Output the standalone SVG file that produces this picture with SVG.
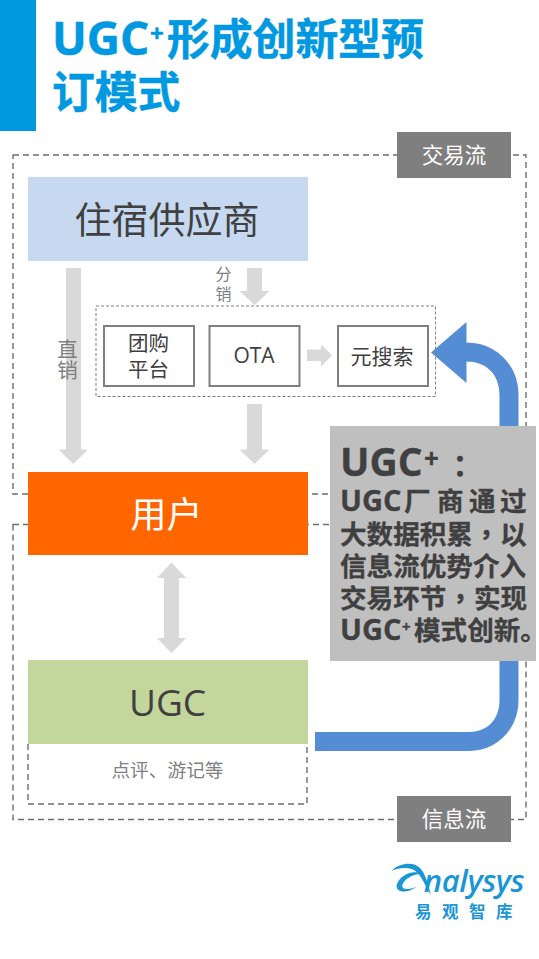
<svg xmlns="http://www.w3.org/2000/svg" width="539" height="959" viewBox="0 0 539 959">
<style>
text{font-family:"Open Sans","Noto Sans CJK SC","Noto Sans",sans-serif;text-anchor:middle}
.d{fill:none;stroke:#6e6e6e;stroke-width:1.4;stroke-dasharray:6 4}
.g{fill:#d9d9d9}
.b{fill:#fff;stroke:#7f7f7f;stroke-width:2}
.t{fill:#0098e0;font-weight:700;font-size:42.800px;text-anchor:start;stroke:#0098e0;stroke-width:.5}
.k{fill:#404040}
.h{fill:#404040;font-weight:700;text-anchor:start;stroke:#404040;stroke-width:.3}
.c{font-family:"Open Sans","Noto Sans CJK TC",sans-serif}
.m{fill:#7f7f7f}
.w{fill:#fff}
.l{fill:#1a96d4}
</style>
<rect width="539" height="959" fill="#fff"/>
<g id="title">
<rect x="0" y="0" width="36" height="131" fill="#0098e0"/>
<text class="t" x="52" y="55"><tspan font-size="46">UGC</tspan><tspan x="150" y="42" font-size="24">+</tspan><tspan x="167" y="55">形成创新型预</tspan></text>
<text class="t" x="52" y="108">订模式</text>
</g>
<g id="frames">
<rect class="d" x="13" y="155" width="513" height="339"/>
<rect class="d" x="13" y="524.500" width="513" height="295"/>
</g>
<g id="connectors">
<path class="g" d="M66 268H81V449.500H88L73.200 464 58.500 449.500H66Z"/>
<path class="g" d="M247 268H262V291H269.500L254.500 305 239.500 291H247Z"/>
<path class="g" d="M247 404H262V449.500H269.500L254.500 464 239.500 449.500H247Z"/>
<path class="g" d="M307 349.500H321V344.500L332 355.500 321 366.500V361H307Z"/>
<path class="g" d="M171.500 562.500L186 578H179V638H186L171.500 653 157 638H164V578H157Z"/>
<path fill="#548dd4" d="M431 352.500L466.500 322V342.500C496 342.500 518.500 365 518.500 395V700C518.500 730 496 751 469 751H315V732H469C487 732 499.500 720 499.500 700V395C499.500 375 487 361.500 466.500 361.500V383Z"/>
</g>
<g id="node-supplier">
<rect x="28" y="177" width="280" height="84" fill="#c6d9f1"/>
<text class="k" x="167" y="234" font-size="37">住宿供应商</text>
</g>
<text class="m" x="223.500" y="280" font-size="16">分</text>
<text class="m" x="223.500" y="300" font-size="16">销</text>
<text class="m" x="67.500" y="357" font-size="20.500">直</text>
<text class="m" x="67.500" y="378" font-size="20.500">销</text>
<g id="node-group">
<rect x="96" y="306" width="339.500" height="90.500" fill="none" stroke="#7f7f7f" stroke-width="1" stroke-dasharray="3 2"/>
</g>
<g id="node-tuangou">
<rect class="b" x="104" y="326" width="90" height="60"/>
<text class="k" x="148.500" y="351" font-size="20.500">团购</text>
<text class="k" x="148.500" y="377" font-size="20.500">平台</text>
</g>
<g id="node-ota">
<rect class="b" x="209.500" y="326" width="90" height="60"/>
<text class="k" x="254" y="363" font-size="21">OTA</text>
</g>
<g id="node-meta">
<rect class="b" x="338" y="326" width="90" height="60"/>
<text class="k" x="382" y="364" font-size="21">元搜索</text>
</g>
<g id="node-user">
<rect x="28" y="472" width="280" height="83" fill="#f60"/>
<text class="w" x="166.500" y="528" font-size="36">用户</text>
</g>
<g id="node-ugc">
<path class="d" d="M28 744V804H307V744"/>
<rect x="28" y="660" width="280" height="84" fill="#c3d69b"/>
<text class="k" x="167.500" y="716" font-size="37">UGC</text>
<text class="m" x="167.500" y="777" font-size="18.700">点评、游记等</text>
</g>
<g id="callout">
<rect x="330" y="426" width="206" height="235" fill="#bfbfbf"/>
<text class="h" x="340" y="476" font-size="39">UGC<tspan x="424" y="468" font-size="26">+</tspan><tspan class="c" x="445" y="477" font-size="30">：</tspan></text>
<text class="h" x="340" y="511" font-size="29">UGC<tspan x="404" font-size="26.600">厂</tspan><tspan x="437" font-size="26.600">商</tspan><tspan x="469" font-size="26.600">通</tspan><tspan x="500" font-size="26.600">过</tspan></text>
<text class="h" x="340" y="544" font-size="26.600">大数据积累<tspan class="c" x="473">，</tspan><tspan x="500">以</tspan></text>
<text class="h" x="340" y="576" font-size="26.600">信息流优势介入</text>
<text class="h" x="340" y="608" font-size="26.600">交易环节<tspan class="c" x="447">，</tspan><tspan x="474">实现</tspan></text>
<text class="h" x="340" y="640" font-size="29">UGC<tspan x="402" y="632" font-size="15">+</tspan><tspan x="414" y="640" font-size="26.600">模式创新。</tspan></text>
</g>
<g id="label-trade">
<rect x="397" y="132" width="114" height="46" fill="#7f7f7f"/>
<text class="w" x="454" y="163" font-size="21.500">交易流</text>
</g>
<g id="label-info">
<rect x="397" y="796" width="114" height="46" fill="#7f7f7f"/>
<text class="w" x="454" y="827" font-size="21.500">信息流</text>
</g>
<g id="logo">
<g transform="translate(380 855) scale(.3333)" class="l">
<path d="M35 47C55 27 85 22 107 30C134 42 142 80 153 120C133 92 124 52 95 42C75 36 55 40 35 47Z"/>
<path d="M125 56C95 42 58 62 50 90C46 114 82 116 110 95C85 106 64 105 67 90C72 72 100 56 125 56Z"/>
</g>
<text class="l" x="474" y="892" font-size="31" font-style="italic" font-weight="600" letter-spacing="-.4">nalysys</text>
<text class="l" x="469" y="918" font-size="16.500" font-weight="700" letter-spacing="10.500">易观智库</text>
</g>
</svg>
